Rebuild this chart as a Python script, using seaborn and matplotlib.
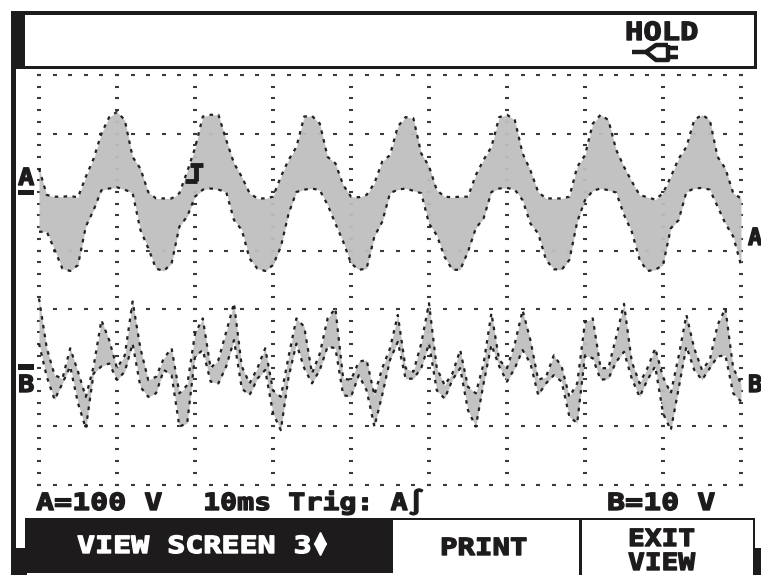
import numpy as np
import pandas as pd
import matplotlib
matplotlib.use("Agg")
import matplotlib.pyplot as plt
from matplotlib.patches import Rectangle
from matplotlib.patheffects import AbstractPathEffect
from matplotlib.transforms import Affine2D
import seaborn as sns

# time base, ms (10 ms/div)
time_ms = list(range(0, 91))

# channel A envelope, volts (100 V/div)
a_top = [40, -5, -8, -8, -7, -9, 26, 57, 100, 128, 137, 123, 60, 40, 0, -11, -11, -11, -2, 35,
         75, 129, 132, 132, 89, 49, 26, -2, -11, -11, -8, 26, 55, 77, 129, 130, 117, 60, 49, 12,
         -8, -9, -5, 15, 52, 63, 112, 128, 126, 66, 44, 3, -8, -9, -8, -8, 29, 55, 77, 128,
         132, 123, 66, 37, 0, -11, -11, -11, -8, 43, 63, 117, 132, 123, 72, 43, 18, -5, -9, -13,
         -2, 26, 57, 77, 123, 132, 123, 60, 40, -2, -11]
a_bot = [-68, -68, -99, -131, -135, -125, -59, -31, 3, 6, 8, 4, -2, -65, -96, -131, -135, -122, -59, -42,
         -8, 4, 6, 4, 0, -48, -65, -114, -131, -135, -125, -94, -37, 0, 4, 6, 3, -22, -54, -85,
         -122, -133, -131, -76, -51, -2, 4, 6, 2, -2, -54, -74, -111, -133, -133, -102, -62, -45, 0, 6,
         7, 4, -14, -54, -71, -116, -132, -133, -116, -51, -14, 2, 6, 3, -1, -39, -68, -116, -135, -133,
         -125, -62, -48, 0, 6, 7, 4, -25, -54, -76, -125]

# channel B envelope, volts (10 V/div)
b_top = [11.7, 3.2, -1.4, -2.0, 3.2, -0.8, -5.1, 0.1, 8.0, 4.6, -0.2, 2.0, 11.2, 3.2, -2.2, -1.7, 1.5, 3.2, -4.5, -3.1,
         5.7, 8.3, -0.2, 1.2, 6.0, 10.9, 0.1, -2.8, -0.2, 3.2, -4.0, -5.1, 1.8, 8.3, 6.9, -1.1, 2.3, 8.3, 10.0, -2.0,
         -2.2, 0.9, 1.2, -4.8, -0.2, 3.2, 8.9, -0.2, -0.8, 4.0, 10.9, -0.2, -3.1, -1.1, 2.9, -3.4, -4.5, 0.6, 9.2, 1.2,
         -0.2, 4.0, 9.7, 4.6, -2.2, -1.7, 2.0, 0.1, -5.1, -2.8, 7.7, 8.3, -0.2, -0.2, 5.2, 10.8, 0.9, -2.8, -0.2, 3.2,
         -1.7, -4.5, 1.8, 8.9, 3.2, -0.5, 1.2, 7.2, 10.0, -0.2, -2.8]
b_bot = [4.0, -1.7, -5.6, -2.8, 0.1, -6.2, -10.5, -1.1, 0.1, 0.6, -2.2, -0.8, 4.0, -3.4, -5.1, -4.5, -0.5, -1.4, -10.2, -9.6,
         1.8, 2.9, -2.5, -2.8, 0.1, 4.6, -3.7, -4.8, -2.0, -0.5, -7.9, -10.8, -1.7, 4.0, -0.2, -2.8, -0.5, 3.5, 3.2, -4.8,
         -5.1, -1.4, -4.0, -10.2, -4.8, 1.2, 4.3, -2.0, -2.0, -0.2, 4.0, -4.0, -5.4, -2.2, -0.2, -7.4, -10.2, -2.8, 3.8, 0.1,
         -2.5, -0.2, 2.9, 0.6, -4.8, -2.8, -1.4, -2.5, -8.5, -9.6, 2.0, 1.5, -2.2, -2.0, 0.9, 2.6, -2.0, -5.1, -2.2, 0.1,
         -7.9, -10.8, -3.7, 3.5, -0.5, -2.2, -0.2, 1.8, 2.0, -4.5, -5.9]

# dotted graticule rows, in channel A volts
grid_rows = [200, 100, -100, -200, -400, -500]

W, H = 761, 575
BLACK = "#1d1b1c"
EDGE = "#222222"
FILL = "#bfbfbf"


class Stretch(AbstractPathEffect):
    # the scope font is wider and heavier than anything installed
    def __init__(self, sx, bold=1.0):
        self.sx = sx
        self.bold = bold

    def draw_path(self, renderer, gc, tpath, affine, rgbFace=None):
        gc0 = renderer.new_gc()
        gc0.copy_properties(gc)
        gc0.set_linewidth(self.bold)
        gc0.set_foreground(rgbFace)
        renderer.draw_path(gc0, tpath, Affine2D().scale(self.sx, 1) + affine, rgbFace)
        gc0.restore()


sns.set_style("white")
fig = plt.figure(figsize=(W / 100, H / 100), dpi=100, facecolor="white")

# traces: x 0 ms sits at px 39, 10 ms = 78 px; A 0 V at px 192, B 0 V at px 367
left, right, top, bottom = 16, 755, 68, 515
ax = fig.add_axes([left / W, 1 - bottom / H, (right - left) / W, (bottom - top) / H])
ax.set_xlim((left - 39) / 7.8, (right - 39) / 7.8)
ax.set_ylim((192 - bottom) / 0.585, (192 - top) / 0.585)
ax.axis("off")
ax_b = ax.twinx()
ax_b.set_ylim((367 - bottom) / 5.85, (367 - top) / 5.85)
ax_b.axis("off")

# graticule
cols = np.arange(0, 91, 10)
col_dots = np.arange(-500, 201, 20)
row_dots = np.arange(0, 91, 2)
grid = pd.DataFrame({
    "t": np.concatenate([np.repeat(cols, len(col_dots)), np.tile(row_dots, len(grid_rows))]),
    "v": np.concatenate([np.tile(col_dots, len(cols)), np.repeat(grid_rows, len(row_dots))]),
})
sns.scatterplot(data=grid, x="t", y="v", marker="_", s=12, linewidth=1.5, color="#3a3a3a", ax=ax, zorder=1)

trace_a = pd.DataFrame({"t": time_ms, "top": a_top, "bot": a_bot})
trace_b = pd.DataFrame({"t": time_ms, "top": b_top, "bot": b_bot})
dots = (0, (1.6, 2.4))
for axis, tr in [(ax, trace_a), (ax_b, trace_b)]:
    axis.fill_between(tr["t"], tr["bot"], tr["top"], color=FILL, lw=0, alpha=0.95, zorder=2)
    sns.lineplot(data=tr, x="t", y="top", color=EDGE, lw=1.6, linestyle=dots, ax=axis, zorder=3)
    sns.lineplot(data=tr, x="t", y="bot", color=EDGE, lw=1.6, linestyle=dots, ax=axis, zorder=3)
    axis.axis("off")

# screen furniture, in picture pixels
ov = fig.add_axes([0, 0, 1, 1], facecolor="none")
ov.set_xlim(0, W)
ov.set_ylim(H, 0)
ov.axis("off")


def box(x0, y0, x1, y1, fc=BLACK, ec="none", lw=0):
    ov.add_patch(Rectangle((x0, y0), x1 - x0, y1 - y0, fc=fc, ec=ec, lw=lw, zorder=5))


box(11, 11, 757, 15)       # header top
box(11, 11, 25, 68)        # header left block
box(754, 11, 757, 68)      # header right
box(11, 66, 757, 69)       # header bottom
box(11, 68, 16, 575)       # frame left
box(11, 548, 27, 575)      # foot left
box(25, 518, 393, 573)     # softkey 1
box(393, 518, 755, 520)    # softkey top line
box(579, 518, 582, 575)    # softkey divider
box(753, 518, 755, 575)    # softkey right
box(755, 548, 761, 575)    # foot right
box(18, 190, 34, 195)      # A ground mark
box(18, 364, 34, 370)      # B ground mark


def label(x, y, s, color=BLACK, size=17, sx=1.27):
    t = ov.text(x, y, s, family="DejaVu Sans Mono", weight="bold", size=size, color=color,
                ha="left", va="baseline", zorder=6)
    t.set_path_effects([Stretch(sx)])


label(625, 40, "HOLD", size=18, sx=1.22)
label(36, 510, "A=100 V")
label(203, 510, "10ms Trig: A∫", sx=1.2)
label(607, 510, "B=10 V")
label(77, 553, "VIEW SCREEN 3", color="white")
label(440, 555, "PRINT", sx=1.23)
label(628, 546, "EXIT", sx=1.18)
label(628, 570, "VIEW", sx=1.18)
label(18, 185, "A", sx=1.15)
label(748, 245, "A", sx=1.0)
label(18, 392, "B", sx=1.15)
label(748, 392, "B", sx=1.0)

# trigger mark
trig = dict(color=BLACK, lw=3.5, solid_capstyle="butt", zorder=6)
ov.plot([190, 203], [165, 165], **trig)
ov.plot([196, 196], [165, 181], **trig)
ov.plot([185, 197], [181, 181], **trig)

# softkey arrows and the hold plug
ov.plot([320], [538], marker="^", ms=8, color="white", zorder=6)
ov.plot([320], [549], marker="v", ms=8, color="white", zorder=6)
plug = dict(color=BLACK, lw=3.2, solid_capstyle="butt", zorder=6)
ov.plot([632, 646], [52, 52], **plug)
ov.plot([668, 656, 646, 656, 668, 668], [45, 45, 52, 60, 60, 45], **plug)
ov.plot([668, 678], [48, 48], **plug)
ov.plot([668, 678], [57, 57], **plug)

fig.savefig("out.png", dpi=100)
